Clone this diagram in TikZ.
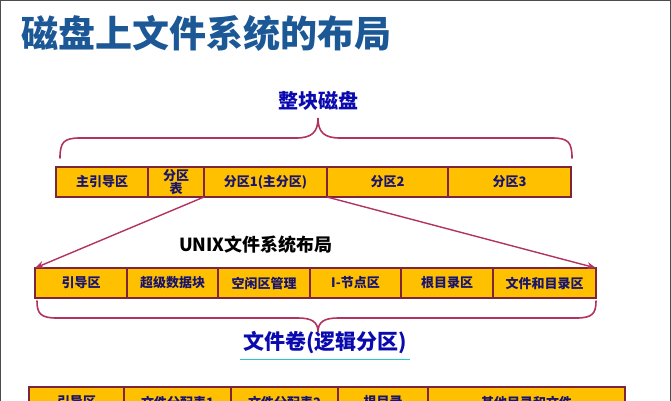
\documentclass[tikz,border=0pt]{standalone}
\usepackage{fontspec}
\newfontfamily\cjk{Noto Sans CJK SC}
\usepackage{xcolor}
\usetikzlibrary{positioning,arrows.meta,calc}
\definecolor{boxfill}{RGB}{255,192,0}
\definecolor{boxline}{RGB}{125,38,58}
\definecolor{labelblue}{RGB}{25,20,110}
\definecolor{bracered}{RGB}{178,50,98}
\definecolor{titleblue}{RGB}{28,88,150}
\definecolor{headblue}{RGB}{10,10,175}
\definecolor{lineteal}{RGB}{40,200,200}

\begin{document}
\begin{tikzpicture}[x=1pt,y=-1pt,
	part/.style={rectangle,draw=boxline,line width=1.2pt,fill=boxfill,inner sep=0pt,outer sep=0pt,
		minimum height=30pt,align=center,text=labelblue,
		font=\cjk\bfseries\fontsize{13}{13}\selectfont},
	brace/.style={draw=bracered,line width=1.6pt,line cap=round},
	link/.style={draw=bracered,line width=1.4pt,-{Stealth[length=9pt,width=7pt]}},
	heading/.style={inner sep=1pt,font=\cjk\bfseries\fontsize{#1}{#1}\selectfont}]

	\useasboundingbox (0,0) rectangle (671,400);
	\draw[black!70,line width=1pt] (0.5,0.5) rectangle (670.5,430);

	\node[heading=37,text=titleblue,anchor=west] (title) at (20,33) {磁盘上文件系统的布局};
	\node[heading=20,text=headblue] (disk) at (318,101) {整块磁盘};

	% whole disk
	\node[part,minimum width=92pt,anchor=north west] (mbr) at (56,167) {主引导区};
	\node[part,minimum width=56pt,right=0pt of mbr] (ptab) {分区\\表};
	\node[part,minimum width=123pt,right=0pt of ptab] (p1) {分区1(主分区)};
	\node[part,minimum width=121pt,right=0pt of p1] (p2) {分区2};
	\node[part,minimum width=123pt,right=0pt of p2] (p3) {分区3};

	\node[heading=18,text=black] (unix) at (256,245) {UNIX文件系统布局};

	% unix partition
	\node[part,minimum width=92pt,anchor=north west] (boot) at (35,268) {引导区};
	\node[part,minimum width=91pt,right=0pt of boot] (super) {超级数据块};
	\node[part,minimum width=92pt,right=0pt of super] (free) {空闲区管理};
	\node[part,minimum width=91pt,right=0pt of free] (inode) {I-节点区};
	\node[part,minimum width=92pt,right=0pt of inode] (root) {根目录区};
	\node[part,minimum width=103pt,right=0pt of root] (files) {文件和目录区};

	\node[heading=21,text=headblue] (volume) at (325,343) {文件卷(逻辑分区)};
	\draw[lineteal,line width=1.5pt] ($(volume.south west)+(-2,4)$) -- ($(volume.south east)+(2,4)$);

	% fat volume
	\node[part,minimum width=95pt,anchor=north west] (fboot) at (29,387) {引导区};
	\node[part,minimum width=107pt,right=0pt of fboot] (fat1) {文件分配表1};
	\node[part,minimum width=107pt,right=0pt of fat1] (fat2) {文件分配表2};
	\node[part,minimum width=90pt,right=0pt of fat2] (froot) {根目录};
	\node[part,minimum width=197pt,right=0pt of froot] (fother) {其他目录和文件};

	\draw[link] (ptab.south east) -- (boot.north west);
	\draw[link] (p1.south east) -- (files.north east);

	\draw[brace] (60,158) .. controls (60,142) and (64,138) .. (80,138) -- (296,138)
		.. controls (312,138) and (318,132) .. (318,118)
		.. controls (318,132) and (324,138) .. (340,138) -- (552,138)
		.. controls (568,138) and (572,142) .. (572,158);
	\draw[brace] (37,301) .. controls (37,314) and (41,318) .. (57,318) -- (298,318)
		.. controls (312,318) and (318,322) .. (318,332)
		.. controls (318,322) and (324,318) .. (338,318) -- (576,318)
		.. controls (592,318) and (596,314) .. (596,301);
\end{tikzpicture}
\end{document}
